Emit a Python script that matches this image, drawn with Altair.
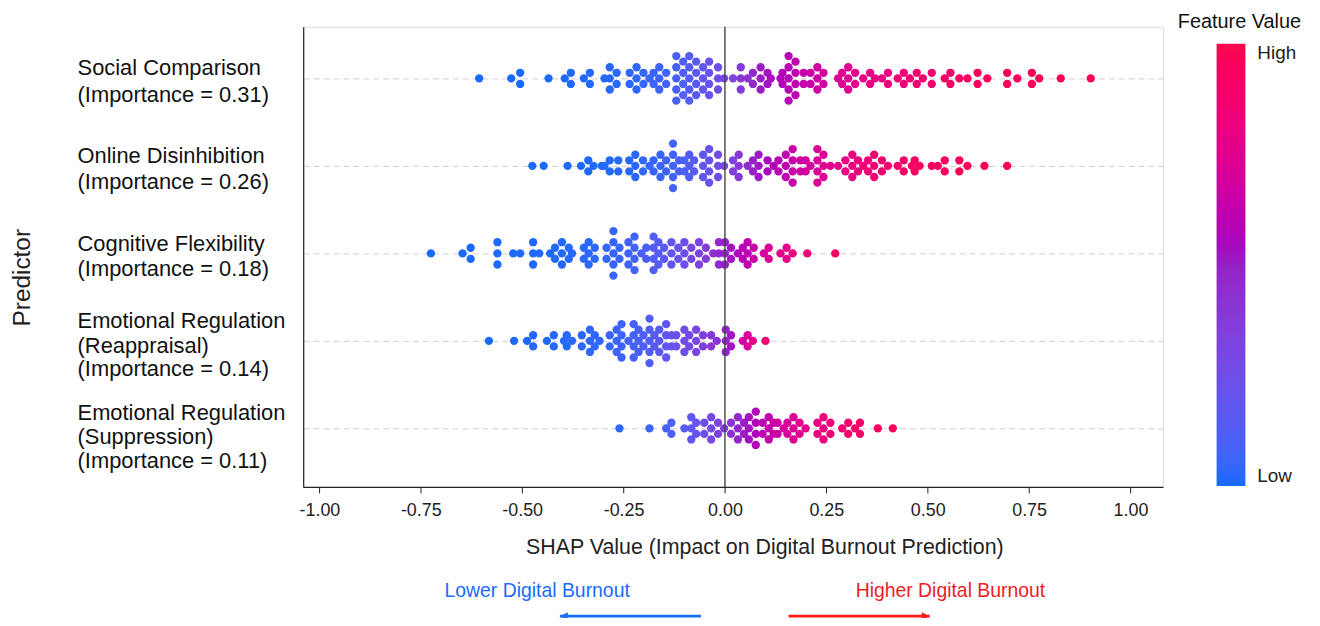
import math
from collections import Counter
import pandas as pd
import altair as alt

# ---------------- data ----------------
predictor_lines = [
    ["Social Comparison", "(Importance = 0.31)"],
    ["Online Disinhibition", "(Importance = 0.26)"],
    ["Cognitive Flexibility", "(Importance = 0.18)"],
    ["Emotional Regulation", "(Reappraisal)", "(Importance = 0.14)"],
    ["Emotional Regulation", "(Suppression)", "(Importance = 0.11)"],
]

shap_social = [
    -0.606, -0.527, -0.505, -0.505, -0.435, -0.395, -0.380, -0.380, -0.348, -0.333, -0.333,
    -0.297, -0.284, -0.284, -0.284, -0.267, -0.267, -0.235, -0.235, -0.218, -0.218, -0.218,
    -0.201, -0.201, -0.186, -0.176, -0.176, -0.162, -0.162, -0.162, -0.145, -0.145,
    -0.120, -0.120, -0.120, -0.120, -0.120, -0.103, -0.103, -0.103, -0.103,
    -0.088, -0.088, -0.088, -0.088, -0.088, -0.071, -0.071, -0.071, -0.071,
    -0.054, -0.054, -0.054, -0.039, -0.039, -0.039, -0.039, -0.017, -0.017, -0.017, -0.002,
    0.020, 0.039, 0.039, 0.039, 0.056, 0.069, 0.069, 0.088, 0.088, 0.088, 0.105, 0.105, 0.113,
    0.137, 0.142, 0.142, 0.157, 0.157, 0.157, 0.157, 0.157, 0.174, 0.174, 0.174, 0.174,
    0.194, 0.194, 0.211, 0.211, 0.228, 0.228, 0.228, 0.243, 0.243,
    0.279, 0.289, 0.289, 0.304, 0.304, 0.304, 0.321, 0.321, 0.341, 0.358, 0.358, 0.370,
    0.387, 0.402, 0.402, 0.426, 0.441, 0.441, 0.456, 0.473, 0.473, 0.488, 0.510, 0.510,
    0.542, 0.556, 0.556, 0.578, 0.598, 0.623, 0.623, 0.647, 0.696, 0.696, 0.721,
    0.757, 0.757, 0.775, 0.828, 0.902,
]
shap_online = [
    -0.475, -0.447, -0.388, -0.355, -0.337, -0.337, -0.324, -0.304, -0.297, -0.284, -0.284,
    -0.263, -0.263, -0.236, -0.236, -0.221, -0.221, -0.221, -0.202, -0.202, -0.186,
    -0.176, -0.176, -0.159, -0.159, -0.159, -0.145, -0.145,
    -0.128, -0.128, -0.128, -0.128, -0.128, -0.113, -0.113, -0.100, -0.100,
    -0.088, -0.088, -0.088, -0.076, -0.076, -0.054, -0.054, -0.054,
    -0.039, -0.039, -0.039, -0.039, -0.017, -0.017, -0.017, -0.002,
    0.020, 0.020, 0.034, 0.034, 0.034, 0.056, 0.069, 0.069, 0.083, 0.083, 0.083,
    0.105, 0.105, 0.120, 0.132, 0.132, 0.150, 0.150, 0.150, 0.167, 0.167, 0.167, 0.167,
    0.186, 0.186, 0.199, 0.199, 0.211, 0.228, 0.228, 0.228, 0.228, 0.243, 0.243, 0.243, 0.260,
    0.279, 0.297, 0.297, 0.314, 0.314, 0.314, 0.328, 0.328, 0.341, 0.353, 0.353,
    0.368, 0.368, 0.368, 0.387, 0.387, 0.402, 0.426, 0.441, 0.441, 0.461, 0.468, 0.468,
    0.480, 0.510, 0.525, 0.542, 0.542, 0.578, 0.578, 0.598, 0.640, 0.696,
]
shap_cognitive = [
    -0.725, -0.647, -0.627, -0.627, -0.561, -0.561, -0.561, -0.522, -0.505,
    -0.473, -0.473, -0.473, -0.458, -0.431, -0.419, -0.419, -0.402, -0.402, -0.402,
    -0.385, -0.385, -0.377, -0.348, -0.348, -0.336, -0.336, -0.336, -0.321, -0.321,
    -0.292, -0.292, -0.275, -0.275, -0.275, -0.275, -0.275, -0.260, -0.260,
    -0.238, -0.238, -0.238, -0.223, -0.223, -0.223, -0.223, -0.206, -0.194, -0.194,
    -0.176, -0.176, -0.176, -0.176, -0.164, -0.164, -0.164, -0.150, -0.150,
    -0.132, -0.132, -0.132, -0.115, -0.115, -0.100, -0.100, -0.100, -0.083, -0.083,
    -0.064, -0.064, -0.064, -0.047, -0.047, -0.029, -0.015, -0.015, -0.015,
    0.000, 0.000, 0.000, 0.015, 0.015, 0.032, 0.044, 0.044, 0.056, 0.056, 0.056,
    0.071, 0.071, 0.096, 0.108, 0.108, 0.137, 0.152, 0.152, 0.167, 0.203, 0.272,
]
shap_reappraisal = [
    -0.582, -0.520, -0.488, -0.473, -0.473, -0.439, -0.422, -0.422, -0.397, -0.390, -0.390,
    -0.377, -0.353, -0.353, -0.333, -0.333, -0.333, -0.321, -0.321, -0.309,
    -0.284, -0.284, -0.267, -0.267, -0.267, -0.255, -0.255, -0.255, -0.255, -0.238,
    -0.225, -0.225, -0.225, -0.225, -0.213, -0.213, -0.213, -0.201, -0.201,
    -0.186, -0.186, -0.186, -0.186, -0.186, -0.174, -0.174, -0.162, -0.162, -0.162,
    -0.145, -0.145, -0.145, -0.145, -0.132, -0.132, -0.120, -0.120,
    -0.100, -0.100, -0.100, -0.088, -0.088, -0.071, -0.071, -0.071, -0.054, -0.054,
    -0.034, -0.034, -0.020, 0.002, 0.002, 0.002, 0.015, 0.015, 0.044, 0.056, 0.056,
    0.069, 0.100,
]
shap_suppression = [
    -0.260, -0.186, -0.145, -0.132, -0.132, -0.100, -0.083, -0.083, -0.083, -0.071, -0.071,
    -0.051, -0.051, -0.034, -0.034, -0.034, -0.017, -0.017, -0.002,
    0.015, 0.015, 0.032, 0.032, 0.032, 0.047, 0.047, 0.059, 0.059, 0.059,
    0.076, 0.076, 0.076, 0.076, 0.093, 0.093, 0.108, 0.108, 0.108, 0.120, 0.120,
    0.130, 0.130, 0.145, 0.154, 0.154, 0.169, 0.169, 0.169, 0.184, 0.184, 0.199,
    0.228, 0.228, 0.243, 0.243, 0.243, 0.260, 0.260, 0.289, 0.304, 0.304, 0.321,
    0.333, 0.333, 0.377, 0.414,
]
shap_rows = [shap_social, shap_online, shap_cognitive, shap_reappraisal, shap_suppression]

# colour (feature value) read per row: SHAP value where dots turn purple,
# and how quickly they go blue (below) / red (above)
color_mid = [0.08, 0.07, 0.00, 0.01, 0.04]
color_spread_low = [0.09, 0.08, 0.09, 0.10, 0.08]
color_spread_high = [0.21, 0.17, 0.12, 0.05, 0.13]

x_ticks = [-1.0, -0.75, -0.5, -0.25, 0.0, 0.25, 0.5, 0.75, 1.0]

# ---------------- layout constants ----------------
W, H = 865, 463
X_DOM = [-1.04, 1.08]
Y_DOM = [-0.59, 4.67]
PX_Y = H / (Y_DOM[1] - Y_DOM[0])
STACK_PX = 11.2                       # vertical spacing of dots sharing a value
label_line_dy = [[-10.5, 17], [-10, 16], [-9.5, 16], [-20, 5, 28], [-15, 9, 33]]

BLUE, PURPLE, RED = "#1a6aff", "#9620c8", "#fa0a4e"
FONT = "Liberation Sans"

rows = []
for r, vals in enumerate(shap_rows):
    counts = Counter(vals)
    seen = Counter()
    for v in vals:
        n, i = counts[v], seen[v]
        seen[v] += 1
        off = (i - (n - 1) / 2.0) * STACK_PX
        s = color_spread_low[r] if v < color_mid[r] else color_spread_high[r]
        fv = 1.0 / (1.0 + math.exp(-(v - color_mid[r]) / s))
        rows.append({"row": r, "shap": v, "ypos": r + off / PX_Y, "fv": fv})
dots = pd.DataFrame(rows)

lab_rows = []
for r, lines in enumerate(predictor_lines):
    for line, dy in zip(lines, label_line_dy[r]):
        lab_rows.append({"t": line, "ypos": r + dy / PX_Y})
labels = pd.DataFrame(lab_rows)

x_scale = alt.Scale(domain=X_DOM, nice=False, zero=False)
y_scale = alt.Scale(domain=Y_DOM, nice=False, zero=False, reverse=True)

x_axis = alt.Axis(
    values=x_ticks,
    labelExpr="replace(format(datum.value, '.2f'), '\u2212', '-')",
    labelFontSize=18, labelFont=FONT, labelColor="#222", labelPadding=9,
    tickSize=6, tickColor="#222", domainColor="#222", domainWidth=1.2,
    grid=False,
    title="SHAP Value (Impact on Digital Burnout Prediction)",
    titleFontSize=21.5, titleFont=FONT, titleFontWeight="normal", titleColor="#222",
    titleX=464, titleY=61, titleAlign="center", titleBaseline="middle",
)
y_axis = alt.Axis(
    values=[0, 1, 2, 3, 4], labels=False, ticks=False,
    grid=True, gridDash=[6, 4], gridColor="#cfcfcf", gridWidth=1,
    domainColor="#222", domainWidth=1.2,
    title="Predictor", titleFontSize=24.5, titleFont=FONT, titleFontWeight="normal",
    titleColor="#222", titleX=-282, titleY=252, titleAngle=270,
    titleAlign="center", titleBaseline="middle",
)

points = alt.Chart(dots).mark_circle(size=70, opacity=1).encode(
    x=alt.X("shap:Q", scale=x_scale, axis=x_axis),
    y=alt.Y("ypos:Q", scale=y_scale, axis=y_axis),
    color=alt.Color(
        "fv:Q",
        scale=alt.Scale(domain=[0, 0.5, 1], range=[BLUE, PURPLE, RED]),
        legend=alt.Legend(
            orient="none", legendX=919, legendY=17, direction="vertical",
            gradientLength=445, gradientThickness=29, gradientStrokeWidth=0,
            values=[0, 1], labelExpr="datum.value >= 0.5 ? 'High' : 'Low'",
            labelFontSize=19, labelFont=FONT, labelColor="#222", labelOffset=12,
            title=None,
        ),
    ),
)

zero_line = alt.Chart(pd.DataFrame({"x": [0.0]})).mark_rule(
    color="#444", strokeWidth=1.4
).encode(x="x:Q")

label_text = alt.Chart(labels).mark_text(
    align="left", baseline="middle", fontSize=22, font=FONT, color="#111"
).encode(x=alt.value(-227), y=alt.Y("ypos:Q", scale=y_scale), text="t:N")

legend_title = alt.Chart(pd.DataFrame({"t": ["Feature Value"]})).mark_text(
    align="center", baseline="middle", fontSize=20, font=FONT, color="#111"
).encode(x=alt.value(942), y=alt.value(-5), text="t:N")

ann_text = pd.DataFrame({
    "x": [-0.463, 0.556],
    "t": ["Lower Digital Burnout", "Higher Digital Burnout"],
    "c": [BLUE, "#ee1c25"],
})
ann_text_layer = alt.Chart(ann_text).mark_text(
    align="center", baseline="middle", fontSize=19.5, font=FONT
).encode(x=alt.X("x:Q", scale=x_scale), y=alt.value(568), text="t:N",
         color=alt.Color("c:N", scale=None))

arrows = pd.DataFrame({
    "tail": [-0.059, 0.157],
    "tip": [-0.407, 0.505],
    "c": ["#1a6ef5", "#ff1a1a"],
    "shape": ["M0,0L2,-1L2,1Z", "M0,0L-2,-1L-2,1Z"],
})
shaft = alt.Chart(arrows).mark_rule(strokeWidth=2.6).encode(
    x=alt.X("tail:Q", scale=x_scale), x2="tip:Q", y=alt.value(593),
    color=alt.Color("c:N", scale=None),
)
heads = alt.Chart(arrows).mark_point(filled=True, size=64, opacity=1).encode(
    x=alt.X("tip:Q", scale=x_scale), y=alt.value(593),
    shape=alt.Shape("shape:N", scale=None),
    color=alt.Color("c:N", scale=None),
)

chart = alt.layer(
    points, zero_line, label_text, legend_title, ann_text_layer, shaft, heads
).resolve_scale(color="independent").properties(
    width=W, height=H,
    autosize=alt.AutoSizeParams(type="none"),
    padding={"left": 297, "top": 17, "right": 150, "bottom": 130},
).configure_view(strokeWidth=0).configure(background="white")

chart.save("out.html", embed_options={"renderer": "svg", "actions": False})
